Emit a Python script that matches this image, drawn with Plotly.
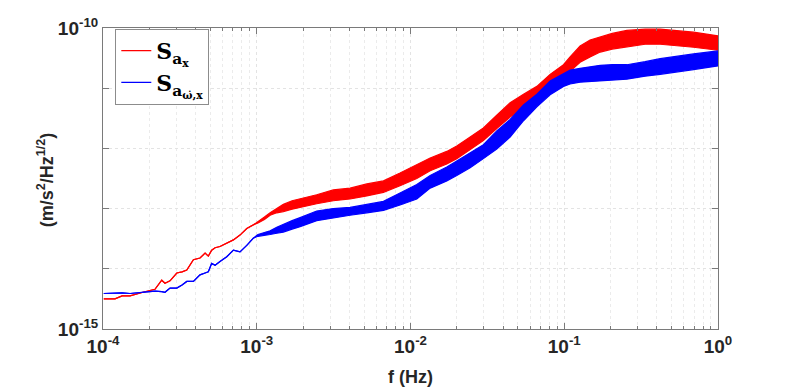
import numpy as np
import plotly.graph_objects as go

# frequency grid, log10(f / Hz)
log_f = [-3.995, -3.922, -3.876, -3.824, -3.740, -3.694, -3.662, -3.618, -3.597, -3.564,
         -3.520, -3.486, -3.455, -3.412, -3.369, -3.336, -3.315, -3.293, -3.271, -3.239,
         -3.195, -3.152, -3.109, -3.065, -3.022, -2.992, -2.950, -2.913, -2.870, -2.827,
         -2.770, -2.718, -2.610, -2.502, -2.393, -2.284, -2.176, -2.068, -1.959, -1.872,
         -1.764, -1.699, -1.612, -1.526, -1.439, -1.352, -1.265, -1.178, -1.092, -1.005,
         -0.962, -0.897, -0.832, -0.766, -0.688, -0.593, -0.474, -0.376, -0.159, 0.0]

# S_ax, lower / upper edge of the noisy trace, log10 value
sax_lo = [-14.50, -14.50, -14.45, -14.45, -14.39, -14.36, -14.34, -14.19, -14.24, -14.20,
          -14.07, -14.05, -14.02, -13.85, -13.82, -13.74, -13.79, -13.69, -13.65, -13.63,
          -13.58, -13.52, -13.44, -13.33, -13.27, -13.24, -13.18, -13.11, -13.07, -13.05,
          -13.01, -12.98, -12.92, -12.87, -12.84, -12.79, -12.73, -12.62, -12.50, -12.37,
          -12.26, -12.17, -12.02, -11.87, -11.67, -11.48, -11.33, -11.18, -11.01, -10.84,
          -10.72, -10.57, -10.48, -10.40, -10.35, -10.31, -10.27, -10.27, -10.32, -10.37]
sax_hi = [-14.50, -14.50, -14.45, -14.45, -14.39, -14.36, -14.34, -14.19, -14.24, -14.20,
          -14.07, -14.05, -14.02, -13.85, -13.82, -13.74, -13.79, -13.69, -13.65, -13.63,
          -13.58, -13.52, -13.44, -13.33, -13.27, -13.21, -13.14, -13.07, -13.00, -12.93,
          -12.87, -12.84, -12.77, -12.69, -12.66, -12.59, -12.54, -12.41, -12.27, -12.16,
          -12.05, -11.96, -11.81, -11.66, -11.45, -11.24, -11.10, -10.97, -10.77, -10.61,
          -10.48, -10.30, -10.20, -10.15, -10.09, -10.04, -10.02, -10.02, -10.07, -10.13]

# S_a(omega-dot),x
saw_lo = [-14.41, -14.40, -14.40, -14.41, -14.39, -14.37, -14.37, -14.38, -14.39, -14.32,
          -14.32, -14.27, -14.21, -14.21, -14.10, -14.07, -14.05, -13.91, -13.94, -13.88,
          -13.80, -13.69, -13.72, -13.61, -13.49, -13.46, -13.45, -13.43, -13.41, -13.39,
          -13.34, -13.30, -13.20, -13.15, -13.11, -13.07, -13.03, -12.94, -12.84, -12.66,
          -12.54, -12.45, -12.32, -12.17, -12.01, -11.81, -11.54, -11.31, -11.11, -10.97,
          -10.93, -10.90, -10.89, -10.88, -10.87, -10.85, -10.80, -10.77, -10.69, -10.63]
saw_hi = [-14.41, -14.40, -14.40, -14.41, -14.39, -14.37, -14.37, -14.38, -14.39, -14.32,
          -14.32, -14.27, -14.21, -14.21, -14.10, -14.07, -14.05, -13.91, -13.94, -13.88,
          -13.80, -13.69, -13.72, -13.61, -13.49, -13.43, -13.40, -13.37, -13.31, -13.26,
          -13.20, -13.15, -13.04, -13.00, -12.98, -12.93, -12.88, -12.74, -12.60, -12.45,
          -12.31, -12.21, -12.08, -11.94, -11.71, -11.52, -11.28, -11.10, -10.88, -10.75,
          -10.70, -10.67, -10.64, -10.62, -10.61, -10.61, -10.56, -10.51, -10.43, -10.38]

x_tickvals = [1e-4, 1e-3, 1e-2, 1e-1, 1]
x_ticktext = ["10<sup>-4</sup>", "10<sup>-3</sup>", "10<sup>-2</sup>", "10<sup>-1</sup>", "10<sup>0</sup>"]
y_tickvals = [1e-15, 1e-10]
y_ticktext = ["10<sup>-15</sup>", "10<sup>-10</sup>"]
y_minor = [1e-14, 1e-13, 1e-12, 1e-11]
x_minor = [m * d for d in [1e-4, 1e-3, 1e-2, 1e-1] for m in range(2, 10)]

f = 10 ** np.array(log_f)

fig = go.Figure()
series = [
    ("S<sub>a<sub>x</sub></sub>", sax_lo, sax_hi, "rgb(255,0,0)"),
    ("S<sub>a<sub>ω̇,x</sub></sub>", saw_lo, saw_hi, "rgb(0,0,255)"),
]
for name, lo, hi, col in series:
    fig.add_trace(go.Scatter(x=f, y=10 ** np.array(lo), mode="lines", name=name,
                             line=dict(color=col, width=1.2)))
    fig.add_trace(go.Scatter(x=f, y=10 ** np.array(hi), mode="lines", showlegend=False,
                             line=dict(color=col, width=1.2), fill="tonexty", fillcolor=col))

axfont = dict(family="Liberation Sans", size=19, color="#262626", weight="bold")
titlefont = dict(family="Liberation Sans", size=18, color="#262626", weight="bold")
axcol = "#7a7a7a"
fig.update_layout(
    width=793, height=387,
    margin=dict(l=103, r=75, t=28, b=58),
    paper_bgcolor="white", plot_bgcolor="white",
    legend=dict(x=0.02, y=0.997, xanchor="left", yanchor="top", traceorder="normal",
                bgcolor="white", bordercolor="#8c8c8c", borderwidth=1,
                font=dict(family="DejaVu Serif", size=22, color="black", weight="bold"),
                itemwidth=30, tracegroupgap=0),
    xaxis=dict(type="log", range=[-4, 0], tickmode="array", tickvals=x_tickvals,
               ticktext=x_ticktext, tickfont=axfont, ticks="inside", ticklen=6,
               tickcolor=axcol, showline=True, linecolor=axcol, linewidth=1,
               mirror="ticks", showgrid=True, gridcolor="#e3e3e3", griddash="dot",
               zeroline=False,
               minor=dict(tickmode="array", tickvals=x_minor, ticks="inside", ticklen=3,
                          tickcolor=axcol, showgrid=True, gridcolor="#ebebeb",
                          griddash="dot")),
    yaxis=dict(type="log", range=[-15, -10], tickmode="array", tickvals=y_tickvals,
               ticktext=y_ticktext, tickfont=axfont, ticks="inside", ticklen=6,
               tickcolor=axcol, showline=True, linecolor=axcol, linewidth=1,
               mirror="ticks", showgrid=True, gridcolor="#e3e3e3", griddash="dot",
               zeroline=False,
               minor=dict(tickmode="array", tickvals=y_minor, ticks="inside", ticklen=6,
                          tickcolor=axcol, showgrid=True, gridcolor="#e3e3e3",
                          griddash="dot")),
    annotations=[
        dict(text="f (Hz)", xref="paper", yref="paper", x=0.5, y=-0.16,
             xanchor="center", yanchor="middle", showarrow=False, font=titlefont),
        dict(text="(m/s<sup>2</sup>/Hz<sup>1/2</sup>)", xref="paper", yref="paper",
             x=-0.094, y=0.495, xanchor="center", yanchor="middle", textangle=-90,
             showarrow=False, font=titlefont),
    ],
)

# drop the default page margin so the figure sits at the window's corner
fig.write_html("out.html", config={"displayModeBar": False},
               post_script="document.body.style.margin='0';")
